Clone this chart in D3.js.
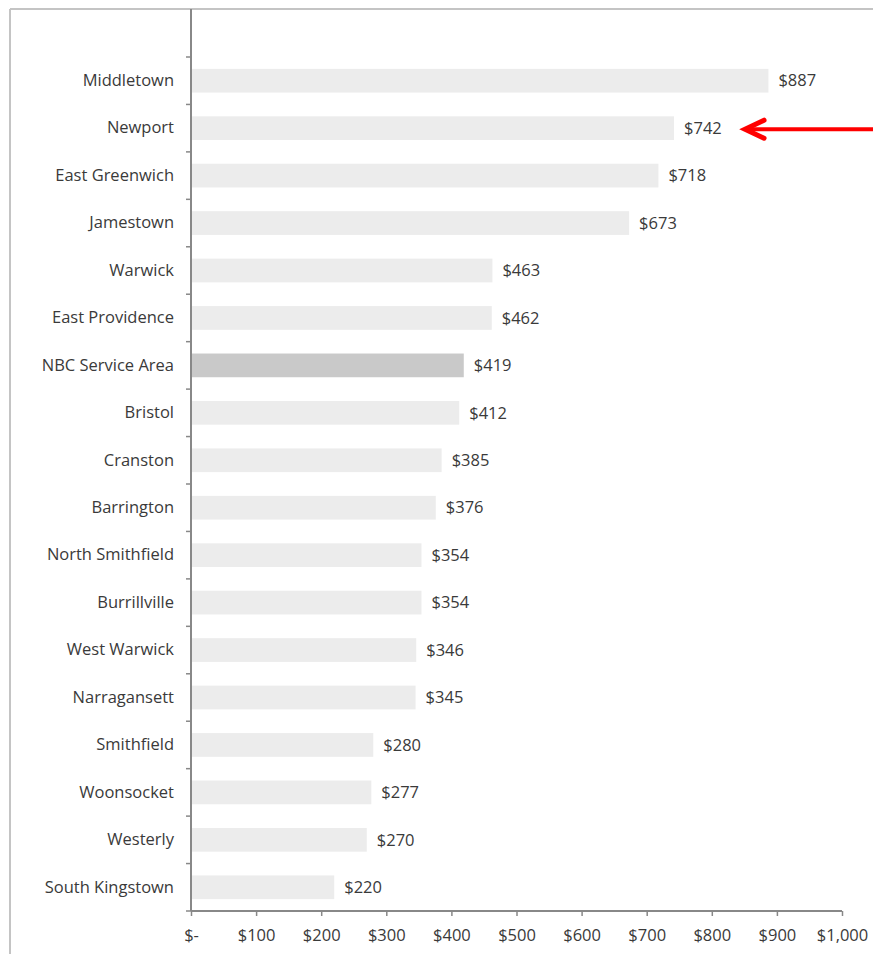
<!DOCTYPE html>
<html>
<head>
<meta charset="utf-8">
<script src="https://cdn.jsdelivr.net/npm/d3@7"></script>
<style>
  html, body { margin: 0; padding: 0; background: #fff; }
  svg { display: block; }
  text { font-family: "Open Sans", "Noto Sans", sans-serif; fill: #3a3a3a; }
</style>
</head>
<body>
<svg id="chart" width="873" height="954"></svg>
<script>
// Average cost per household, by community
const towns = [
  "Middletown", "Newport", "East Greenwich", "Jamestown", "Warwick",
  "East Providence", "NBC Service Area", "Bristol", "Cranston", "Barrington",
  "North Smithfield", "Burrillville", "West Warwick", "Narragansett",
  "Smithfield", "Woonsocket", "Westerly", "South Kingstown"
];
const costs = [887, 742, 718, 673, 463, 462, 419, 412, 385, 376, 354, 354, 346, 345, 280, 277, 270, 220];
const highlighted = ["NBC Service Area"];
const arrowTarget = ["Newport"];
const xTicks = [0, 100, 200, 300, 400, 500, 600, 700, 800, 900, 1000];

const svg = d3.select("#chart");
const FONT = "'Open Sans', 'Noto Sans', sans-serif";
const FS = 16.5;

// outer frame (only top and left edges fall inside the page)
svg.append("line").attr("x1", 10).attr("x2", 873).attr("y1", 9).attr("y2", 9)
  .attr("stroke", "#c4c4c4").attr("stroke-width", 2);
svg.append("line").attr("x1", 10).attr("x2", 10).attr("y1", 9).attr("y2", 954)
  .attr("stroke", "#c4c4c4").attr("stroke-width", 2);

const x0 = 191, x1 = 842, yTop = 57, yBot = 911;

const x = d3.scaleLinear().domain([0, 1000]).range([x0, x1]);
const y = d3.scaleBand().domain(towns).range([yTop, yBot]).paddingInner(0.5).paddingOuter(0.25);
const yStep = y.step();

// bars
svg.append("g").selectAll("rect").data(towns).join("rect")
  .attr("x", x(0) + 1)
  .attr("y", d => y(d))
  .attr("width", (d, i) => x(costs[i]) - x(0) - 1)
  .attr("height", y.bandwidth())
  .attr("fill", d => highlighted.includes(d) ? "#c9c9c9" : "#ececec");

// value labels
const money = v => "$" + d3.format(",")(v);
svg.append("g").selectAll("text").data(towns).join("text")
  .attr("x", (d, i) => x(costs[i]) + 10)
  .attr("y", d => y(d) + y.bandwidth() / 2)
  .attr("dy", "0.35em")
  .attr("font-size", FS)
  .text((d, i) => money(costs[i]));

// category axis
const yAxis = svg.append("g").attr("transform", `translate(${x0},0)`)
  .call(d3.axisLeft(y).tickSize(0).tickPadding(17));
yAxis.select(".domain").remove();
yAxis.selectAll("text").attr("font-size", FS).attr("fill", "#3a3a3a")
  .style("font-family", FONT);

// category boundary ticks
svg.append("g").selectAll("line").data(d3.range(towns.length + 1)).join("line")
  .attr("x1", x0 - 5).attr("x2", x0)
  .attr("y1", i => yTop + i * yStep).attr("y2", i => yTop + i * yStep)
  .attr("stroke", "#888").attr("stroke-width", 1.5);

// vertical axis line
svg.append("line").attr("x1", x0).attr("x2", x0).attr("y1", 9).attr("y2", yBot)
  .attr("stroke", "#888").attr("stroke-width", 2);

// value axis
const xAxis = svg.append("g").attr("transform", `translate(0,${yBot})`)
  .call(d3.axisBottom(x).tickValues(xTicks).tickSize(5).tickPadding(13)
    .tickFormat(d => d === 0 ? "$-" : money(d)));
xAxis.select(".domain").attr("stroke", "#888").attr("stroke-width", 2)
  .attr("d", `M${x0},0H${x1}`);
xAxis.selectAll(".tick line").attr("stroke", "#888").attr("stroke-width", 1.5);
xAxis.selectAll("text").attr("font-size", FS).attr("fill", "#3a3a3a")
  .style("font-family", FONT);

// red arrow pointing at the highlighted town's value
const target = arrowTarget[0];
const ay = y(target) + y.bandwidth() / 2 + 1;
const tipX = x(costs[towns.indexOf(target)]) + 71;
svg.append("line").attr("x1", 873).attr("x2", tipX + 2).attr("y1", ay).attr("y2", ay)
  .attr("stroke", "#ff0000").attr("stroke-width", 4);
svg.append("path")
  .attr("d", `M${tipX + 19},${ay - 9}L${tipX},${ay}L${tipX + 19},${ay + 9}`)
  .attr("fill", "none").attr("stroke", "#ff0000").attr("stroke-width", 5)
  .attr("stroke-linecap", "round").attr("stroke-linejoin", "miter");
</script>
</body>
</html>
